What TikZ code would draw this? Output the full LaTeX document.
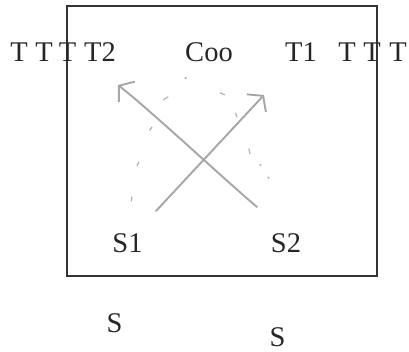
\documentclass[tikz,border=0pt]{standalone}
\usepackage{fontspec}
\setmainfont{Liberation Serif}
\usetikzlibrary{arrows.meta}
\tikzset{
  lbl/.style={anchor=base,inner sep=0pt,font=\fontsize{28.5}{30}\selectfont,text=black!85},
  flow/.style={draw=black!35,line width=1.9pt,line cap=round,-{Straight Barb[length=10pt,width=26pt,line width=1.9pt]}},
  faint/.style={draw=black!30,line width=1.2pt,line cap=round}
}
\begin{document}
\begin{tikzpicture}[x=1pt,y=-1pt]
\useasboundingbox (0,0) rectangle (409,352);
% frame
\draw[line width=2.2pt,black!80] (67,6) rectangle (377,276);
% top row
\node[lbl] (ta) at (19,62) {T};
\node[lbl] (tb) at (44,62) {T};
\node[lbl] (tc) at (67.5,62) {T};
\node[lbl] (t2) at (100,62) {T2};
\node[lbl] (coo) at (209,62) {Coo};
\node[lbl] (t1) at (301,62) {T1};
\node[lbl] (td) at (347,62) {T};
\node[lbl] (te) at (372,62) {T};
\node[lbl] (tf) at (398,62) {T};
% sources
\node[lbl] (s1) at (127.5,253) {S1};
\node[lbl] (s2) at (286,253) {S2};
\node[lbl] (sa) at (114.5,332) {S};
\node[lbl] (sb) at (277.5,346) {S};
% crossing arrows
\coordinate (s1out) at (156,211);
\coordinate (t1in) at (264,95);
\coordinate (s2out) at (257,207);
\coordinate (t2in) at (118,85);
\draw[flow] (s2out) .. controls (225,180) and (150,110) .. (t2in);
\draw[flow] (s1out) -- (t1in);
% faint marks
\foreach \x/\y/\a/\l in {132/197/100/4, 139/162/120/4, 152/127/125/4, 168/97/150/5,
  185/78/0/1.2, 220/93/20/5, 237/117/250/4, 249/149/80/5, 260/165/0/1, 268/177/60/2}
  \draw[faint] (\x,\y) -- ++(\a:\l);
\end{tikzpicture}
\end{document}
